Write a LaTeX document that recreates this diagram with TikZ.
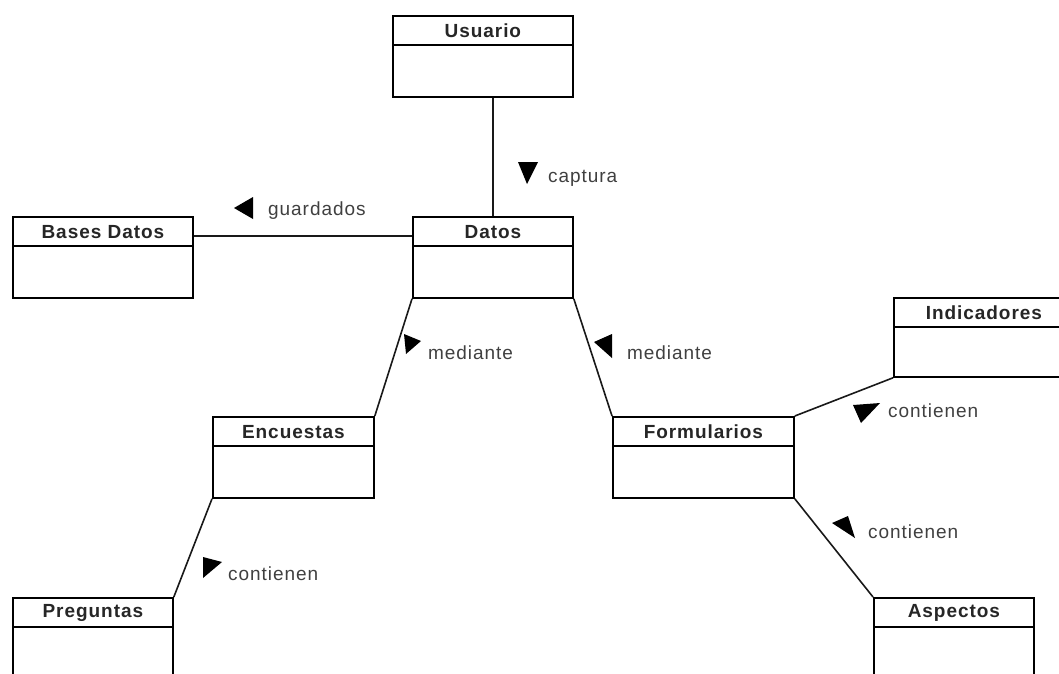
\documentclass[tikz,border=0pt]{standalone}
\usepackage{fontspec}
\setmainfont{Liberation Sans}
\newfontfamily\titlefont[LetterSpace=5]{Liberation Sans}
\newfontfamily\assocfont[LetterSpace=5]{Liberation Sans}
\begin{document}
\begin{tikzpicture}[x=1pt,y=1pt,
  classbox/.style={draw=black, line width=1.8pt, rectangle, inner sep=0pt, fill=white},
  classtitle/.style={inner sep=0pt, font=\titlefont\fontsize{19}{22}\selectfont\bfseries, text=black!85},
  assoc/.style={draw=black!90, line width=1.6pt},
  assoclabel/.style={inner sep=0pt, anchor=west, font=\assocfont\fontsize{19}{22}\selectfont, text=black!75},
  dirmark/.style={fill=black}]
\useasboundingbox (0,0) rectangle (1059,-673);
\clip (0,0) rectangle (1059,-673);
\fill[white] (0,0) rectangle (1059,-673);

% class box: name, left, top, width, height, title
\newcommand{\umlclass}[6]{%
  \node[classbox, minimum width=#4pt, minimum height=#5pt, anchor=north west] (#1) at (#2,-#3) {};
  \draw[line width=1.8pt] ([yshift=-30pt]#1.north west) -- ([yshift=-30pt]#1.north east);
  \node[classtitle] (#1-t) at ([yshift=-16pt]#1.north) {#6};
}

\umlclass{usr}{392}{15}{180}{81}{Usuario}
\umlclass{dat}{412}{216}{160}{81}{Datos}
\umlclass{bas}{12}{216}{180}{81}{Bases Datos}
\umlclass{enc}{212}{416}{161}{81}{Encuestas}
\umlclass{frm}{612}{416}{181}{81}{Formularios}
\umlclass{ind}{893}{297}{180}{79}{Indicadores}
\umlclass{pre}{12}{597}{160}{81}{Preguntas}
\umlclass{asp}{873}{597}{160}{81}{Aspectos}

% associations
\draw[assoc] ([xshift=10pt]usr.south) -- (dat.north);
\draw[assoc] ([yshift=-20pt]bas.north east) -- ([yshift=-20pt]dat.north west);
\draw[assoc] (dat.south west) -- (enc.north east);
\draw[assoc] (dat.south east) -- (frm.north west);
\draw[assoc] (enc.south west) -- (pre.north east);
\draw[assoc] (frm.south east) -- (asp.north west);
\draw[assoc] (frm.north east) -- (ind.south west);

% reading-direction marks
\fill[dirmark] (518,-162) -- (538,-162) -- (527,-184) -- cycle;
\fill[dirmark] (234,-208) -- (253,-197) -- (253,-219) -- cycle;
\fill[dirmark] (404,-334) -- (421,-341) -- (406,-354) -- cycle;
\fill[dirmark] (594,-342) -- (612,-334) -- (612,-358) -- cycle;
\fill[dirmark] (853,-405) -- (880,-403) -- (861,-423) -- cycle;
\fill[dirmark] (203,-557) -- (222,-562) -- (203,-578) -- cycle;
\fill[dirmark] (832,-523) -- (848,-516) -- (855,-538) -- cycle;

% association names
\node[assoclabel] (l-cap) at (548,-178) {captura};
\node[assoclabel] (l-gua) at (268,-211) {guardados};
\node[assoclabel] (l-me1) at (428,-353) {mediante};
\node[assoclabel] (l-me2) at (627,-353) {mediante};
\node[assoclabel] (l-co1) at (888,-411) {contienen};
\node[assoclabel] (l-co2) at (228,-574) {contienen};
\node[assoclabel] (l-co3) at (868,-532) {contienen};
\end{tikzpicture}
\end{document}
